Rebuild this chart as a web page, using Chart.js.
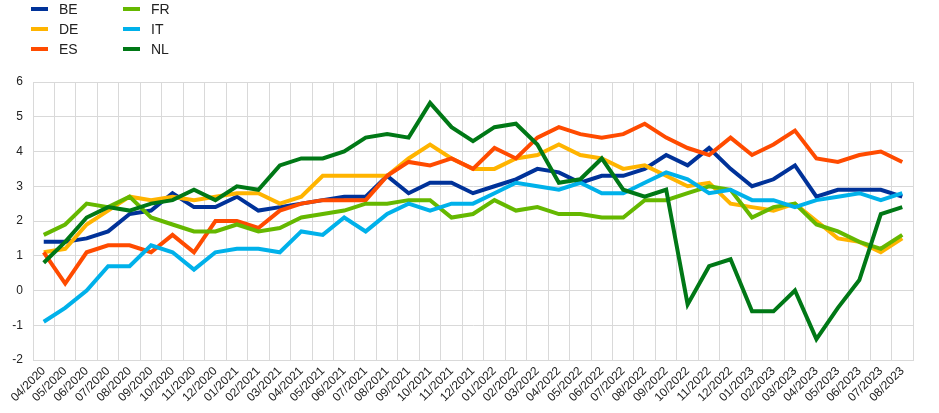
<!DOCTYPE html>
<html>
<head>
<meta charset="utf-8">
<script src="https://cdn.jsdelivr.net/npm/chart.js@4/dist/chart.umd.min.js"></script>
<style>
  html, body { margin: 0; padding: 0; background: #fff; }
  #wrap { width: 939px; height: 413px; position: relative; }
</style>
</head>
<body>
<div id="wrap"><canvas id="chart"></canvas></div>
<script>
// months
const months = ['04/2020','05/2020','06/2020','07/2020','08/2020','09/2020','10/2020','11/2020','12/2020',
  '01/2021','02/2021','03/2021','04/2021','05/2021','06/2021','07/2021','08/2021','09/2021','10/2021','11/2021','12/2021',
  '01/2022','02/2022','03/2022','04/2022','05/2022','06/2022','07/2022','08/2022','09/2022','10/2022','11/2022','12/2022',
  '01/2023','02/2023','03/2023','04/2023','05/2023','06/2023','07/2023','08/2023'];

// series values
const BE = [1.4,1.4,1.5,1.7,2.2,2.3,2.8,2.4,2.4,2.7, 2.3,2.4,2.5,2.6,2.7,2.7,3.3,2.8,3.1,3.1,2.8,
  3.0,3.2,3.5,3.4,3.1,3.3,3.3,3.5,3.9,3.6,4.1, 3.5,3.0,3.2,3.6,2.7,2.9,2.9,2.9,2.7];
const DE = [1.1,1.2,1.9,2.3,2.7,2.6,2.7,2.6,2.7,2.8, 2.8,2.5,2.7,3.3,3.3,3.3,3.3,3.8,4.2,3.8,3.5,
  3.5,3.8,3.9,4.2,3.9,3.8,3.5,3.6,3.3,3.0,3.1, 2.5,2.4,2.3,2.5,2.0,1.5,1.4,1.1,1.5];
const ES = [1.1,0.2,1.1,1.3,1.3,1.1,1.6,1.1,2.0,2.0, 1.8,2.3,2.5,2.6,2.6,2.6,3.3,3.7,3.6,3.8,3.5,
  4.1,3.8,4.4,4.7,4.5,4.4,4.5,4.8,4.4,4.1,3.9, 4.4,3.9,4.2,4.6,3.8,3.7,3.9,4.0,3.7];
const FR = [1.6,1.9,2.5,2.4,2.7,2.1,1.9,1.7,1.7,1.9, 1.7,1.8,2.1,2.2,2.3,2.5,2.5,2.6,2.6,2.1,2.2,
  2.6,2.3,2.4,2.2,2.2,2.1,2.1,2.6,2.6,2.8,3.0, 2.9,2.1,2.4,2.5,1.9,1.7,1.4,1.2,1.6];
const IT = [-0.9,-0.5,0.0,0.7,0.7,1.3,1.1,0.6,1.1,1.2, 1.2,1.1,1.7,1.6,2.1,1.7,2.2,2.5,2.3,2.5,2.5,
  2.8,3.1,3.0,2.9,3.1,2.8,2.8,3.1,3.4,3.2,2.8, 2.9,2.6,2.6,2.4,2.6,2.7,2.8,2.6,2.8];
const NL = [0.8,1.4,2.1,2.4,2.3,2.5,2.6,2.9,2.6,3.0, 2.9,3.6,3.8,3.8,4.0,4.4,4.5,4.4,5.4,4.7,4.3,
  4.7,4.8,4.2,3.1,3.2,3.8,2.9,2.7,2.9,-0.4,0.7, 0.9,-0.6,-0.6,0.0,-1.4,-0.5,0.3,2.2,2.4];

const seriesNames = ['BE','DE','ES','FR','IT','NL'];
const seriesData = [BE, DE, ES, FR, IT, NL];
const colours = ['#003299','#ffb400','#ff4b00','#65b800','#00b1ea','#007816'];

const datasets = seriesNames.map((name, i) => ({
  label: name,
  data: seriesData[i],
  borderColor: colours[i],
  backgroundColor: colours[i],
  borderWidth: 4,
  pointRadius: 0,
  tension: 0,
  order: seriesNames.length - i   // last series drawn on top
}));

// legend in two columns, drawn on the canvas
const legendCols = [['BE','DE','ES'], ['FR','IT','NL']];
const colLineX = [31, 123];
const rowY = [9, 29, 49];
const sideLegend = {
  id: 'sideLegend',
  afterDraw(chart) {
    const c = chart.ctx;
    c.save();
    c.font = '14px "Liberation Sans", Arial, sans-serif';
    c.textBaseline = 'middle';
    legendCols.forEach((col, ci) => {
      col.forEach((name, ri) => {
        const k = seriesNames.indexOf(name);
        c.fillStyle = colours[k];
        c.fillRect(colLineX[ci], rowY[ri] - 2, 17, 4);
        c.fillStyle = '#222';
        c.fillText(name, colLineX[ci] + 28, rowY[ri] + 1);
      });
    });
    c.restore();
  }
};

Chart.defaults.font.family = '"Liberation Sans", Arial, sans-serif';
Chart.defaults.color = '#222';

const chart = new Chart(document.getElementById('chart'), {
  type: 'line',
  data: { labels: months, datasets: datasets },
  plugins: [sideLegend],
  options: {
    responsive: true,
    maintainAspectRatio: false,
    animation: false,
    layout: { padding: { top: 82, right: 26, left: 0, bottom: 0 } },
    plugins: { legend: { display: false }, tooltip: { enabled: false } },
    scales: {
      x: {
        offset: true,
        grid: { offset: true, color: '#d9d9d9', drawTicks: false },
        border: { color: '#d9d9d9' },
        ticks: { minRotation: 45, maxRotation: 45, autoSkip: false, font: { size: 12 }, padding: 4 },
        afterFit: (s) => { s.height = 53; }
      },
      y: {
        min: -2, max: 6,
        grid: { color: '#d9d9d9', drawTicks: false },
        border: { color: '#d9d9d9' },
        ticks: { stepSize: 1, font: { size: 12 }, padding: 10 },
        afterFit: (s) => { s.width = 33; }
      }
    }
  }
});
</script>
</body>
</html>
